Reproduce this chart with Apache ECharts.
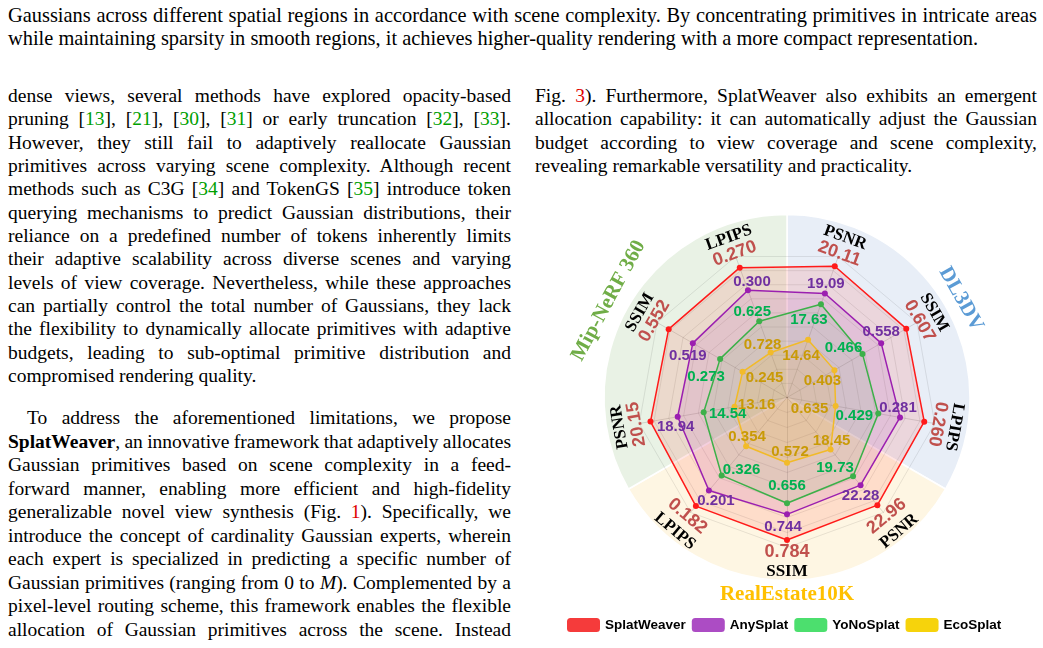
<!DOCTYPE html>
<html><head><meta charset="utf-8">
<script src="https://cdn.jsdelivr.net/npm/echarts@6/dist/echarts.min.js"></script>
<style>
html,body{margin:0;padding:0;background:#fff;width:1043px;height:648px;overflow:hidden;}
.t{position:absolute;font-family:"Liberation Serif","Times New Roman",serif;font-size:19.5px;line-height:23px;height:23px;color:#000;white-space:nowrap;}
.cap{font-size:20.4px;}
.c{color:#00a000;} .r{color:#e00000;}
#chart{position:absolute;left:0;top:0;width:1043px;height:648px;}
</style></head>
<body>
<div id="txt"></div>
<div id="chart"></div>
<script>
// ---------------- data ----------------
const indicatorNames = ['SSIM','PSNR','LPIPS','SSIM','PSNR','LPIPS','SSIM','PSNR','LPIPS'];
const seriesNames = ['SplatWeaver','AnySplat','YoNoSplat','EcoSplat'];
const datasetNames = ['DL3DV','RealEstate10K','Mip-NeRF 360'];
// metric values (printed labels), indicator order above
const splatWeaverMetrics = [0.784, 22.96, 0.260, 0.607, 20.11, 0.270, 0.552, 20.15, 0.182];
const anySplatMetrics    = [0.744, 22.28, 0.281, 0.558, 19.09, 0.300, 0.519, 18.94, 0.201];
const yoNoSplatMetrics   = [0.656, 19.73, 0.429, 0.466, 17.63, 0.625, 0.273, 14.54, 0.326];
const ecoSplatMetrics    = [0.572, 18.45, 0.635, 0.403, 14.64, 0.728, 0.245, 13.16, 0.354];
// plotted radial scores (0-100)
const splatWeaverScores = [95.0, 93.7, 92.9, 91.8, 93.1, 92.1, 91.1, 92.4, 94.5];
const anySplatScores    = [77.9, 76.3, 76.5, 72.5, 73.8, 76.1, 72.5, 74.0, 81.0];
const yoNoSplatScores   = [70.5, 68.5, 61.8, 58.1, 66.1, 54.1, 51.5, 56.4, 67.8];
const ecoSplatScores    = [43.5, 45.2, 32.9, 36.5, 41.0, 31.9, 34.2, 35.5, 42.4];
const sectorShares = [1, 1, 1];

// ---------------- page text ----------------
const lines = [
 [8,4,1029,true,'Gaussians across different spatial regions in accordance with scene complexity. By concentrating primitives in intricate areas','cap'],
 [8,27,1029,false,'while maintaining sparsity in smooth regions, it achieves higher-quality rendering with a more compact representation.','cap'],
];
const left = [
 'dense views, several methods have explored opacity-based',
 'pruning [<span class=c>13</span>], [<span class=c>21</span>], [<span class=c>30</span>], [<span class=c>31</span>] or early truncation [<span class=c>32</span>], [<span class=c>33</span>].',
 'However, they still fail to adaptively reallocate Gaussian',
 'primitives across varying scene complexity. Although recent',
 'methods such as C3G [<span class=c>34</span>] and TokenGS [<span class=c>35</span>] introduce token',
 'querying mechanisms to predict Gaussian distributions, their',
 'reliance on a predefined number of tokens inherently limits',
 'their adaptive scalability across diverse scenes and varying',
 'levels of view coverage. Nevertheless, while these approaches',
 'can partially control the total number of Gaussians, they lack',
 'the flexibility to dynamically allocate primitives with adaptive',
 'budgets, leading to sub-optimal primitive distribution and',
 'compromised rendering quality.'
];
const left2 = [
 'To address the aforementioned limitations, we propose',
 '<b>SplatWeaver</b>, an innovative framework that adaptively allocates',
 'Gaussian primitives based on scene complexity in a feed-',
 'forward manner, enabling more efficient and high-fidelity',
 'generalizable novel view synthesis (Fig. <span class=r>1</span>). Specifically, we',
 'introduce the concept of cardinality Gaussian experts, wherein',
 'each expert is specialized in predicting a specific number of',
 'Gaussian primitives (ranging from 0 to <i>M</i>). Complemented by a',
 'pixel-level routing scheme, this framework enables the flexible',
 'allocation of Gaussian primitives across the scene. Instead'
];
const right = [
 'Fig. <span class=r>3</span>). Furthermore, SplatWeaver also exhibits an emergent',
 'allocation capability: it can automatically adjust the Gaussian',
 'budget according to view coverage and scene complexity,',
 'revealing remarkable versatility and practicality.'
];
left.forEach((s,i)=>lines.push([8, 84 + 23.33*i, 503, i !== left.length-1, s]));
left2.forEach((s,i)=>lines.push([i===0?27:8, 406 + 23.55*i, i===0?484:503, true, s]));
right.forEach((s,i)=>lines.push([535, 84 + 23.4*i, 502, i !== right.length-1, s]));
const txt = document.getElementById('txt');
lines.forEach(l=>{
  const d = document.createElement('div');
  d.className = 't' + (l[5] ? ' ' + l[5] : '');
  d.style.left = l[0]+'px'; d.style.top = l[1]+'px'; d.style.width = l[2]+'px';
  const sp = document.createElement('span');
  sp.innerHTML = l[4];
  d.appendChild(sp);
  txt.appendChild(d);
  if (l[3]) {
    const w = sp.getBoundingClientRect().width;
    const nSp = (sp.textContent.match(/ /g) || []).length;
    if (nSp > 0) sp.style.wordSpacing = ((l[2] - w) / nSp) + 'px';
  }
});

// ---------------- chart ----------------
const CENTER = [787, 397.5], RADIUS = 150, BG_RADIUS = 183;
const lineColors = ['#ff1a1a','#9b1fb0','#3db04a','#f2bb2a'];
const areaColors = ['rgba(255,50,30,0.18)','rgba(160,40,190,0.17)','rgba(60,185,70,0.13)','rgba(245,185,30,0.22)'];
const legendColors = ['#f53b3b','#ac4cc4','#4cdf6e','#f6d30c'];
const labelColors = ['#c0504d','#7030a0','#00b050','#c99a06'];
const sectorColors = ['#e8eef7','#fef6e3','#e9f2e5'];
const datasetColors = ['#5b9bd5','#ffc000','#70ad47'];
// label offsets (px) of the value text relative to each vertex
const labelOffsets = [
 null,
 [[-4,13],[0,11],[-2,-10],[0,-11],[1,-10],[4,-8],[-5,13],[-2,10],[7,10]],
 [[0,-17],[-18,-8],[-24,2],[-19,-6],[-12,16],[-7,-9],[-14,18],[24,2],[20,-6]],
 [[3,-11],[1,-9],[-26,3],[-12,11],[-7,16],[-8,-8],[22,6],[22,-2],[1,-9]]
];
const metrics = [splatWeaverMetrics, anySplatMetrics, yoNoSplatMetrics, ecoSplatMetrics];
const scores = [splatWeaverScores, anySplatScores, yoNoSplatScores, ecoSplatScores];
const fmt = v => v < 1 ? v.toFixed(3) : v.toFixed(2);

const chart = echarts.init(document.getElementById('chart'), null, {renderer:'canvas'});
const option = {
  animation: false,
  legend: {
    left: 567, top: 618, padding: 0, itemWidth: 33, itemHeight: 14, itemGap: 6, icon: 'roundRect',
    selectedMode: false,
    textStyle: {fontFamily: 'Liberation Sans', fontWeight: 'bold', fontSize: 13.5, color: '#000'},
    data: seriesNames.map((n,i)=>({name:n, itemStyle:{color:legendColors[i], borderWidth:0}}))
  },
  radar: {
    z: 1,
    center: CENTER, radius: RADIUS, startAngle: 270, splitNumber: 10, shape: 'polygon',
    indicator: indicatorNames.map(n=>({name:n, min:0, max:100})),
    axisName: {show:false},
    axisLine: {lineStyle:{color:'rgba(0,0,0,0.13)', width:1}},
    splitLine: {lineStyle:{color:'rgba(0,0,0,0.09)', width:1}},
    splitArea: {show:false}
  },
  series: [
    {
      type: 'pie', z: 0, silent: true, center: CENTER, radius: [0, BG_RADIUS],
      startAngle: 90, clockwise: true, label: {show:false}, labelLine:{show:false},
      itemStyle: {borderColor:'#fff', borderWidth:1.5},
      emphasis: {disabled:true},
      data: datasetNames.map((n,i)=>({name:n, value:sectorShares[i], itemStyle:{color:sectorColors[i]}}))
    },
    {
      type: 'radar', z: 2, symbol: 'circle', symbolSize: 6,
      emphasis: {disabled:true},
      data: seriesNames.map((n,i)=>({
        name: n, value: scores[i],
        lineStyle: {color: lineColors[i], width: 1.5},
        itemStyle: {color: lineColors[i]},
        areaStyle: {color: areaColors[i]}
      }))
    }
  ]
};
chart.setOption(option);

// ---------- texts placed with the radar coordinate system ----------
let cs = null;
try { cs = chart.getModel().getComponent('radar', 0).coordinateSystem; } catch(e) {}
const cx = cs && cs.cx != null ? cs.cx : CENTER[0];
const cy = cs && cs.cy != null ? cs.cy : CENTER[1];
const nInd = indicatorNames.length;
function angleOf(i){
  if (cs && cs.getIndicatorAxes) return cs.getIndicatorAxes()[i].angle;
  return (270 + i*360/nInd) * Math.PI/180;
}
function pointOf(v, i){
  if (cs && cs.dataToPoint) return cs.dataToPoint(v, i);
  const a = angleOf(i), r = v/100*RADIUS;
  return [cx + r*Math.cos(a), cy - r*Math.sin(a)];
}
function polar(r, a){ return [cx + r*Math.cos(a), cy - r*Math.sin(a)]; }
function txtEl(p, text, rot, font, color){
  return {type:'text', x:p[0], y:p[1], rotation:rot, z:100, silent:true,
    style:{text:text, font:font, fill:color, align:'center', verticalAlign:'middle'}};
}
const graphics = [];
const NAME_FONT = 'bold 17px "Liberation Serif", serif';
const VAL_FONT = 'bold 18px "Liberation Sans", Arial, sans-serif';
const LAB_FONT = 'bold 15px "Liberation Sans", Arial, sans-serif';
for (let i=0;i<nInd;i++){
  const a = angleOf(i);
  let deg = (a*180/Math.PI) % 360; if (deg<0) deg += 360;
  const flip = deg > 200 && deg < 340;
  const rot = flip ? a + Math.PI/2 : a - Math.PI/2;
  const rv = flip ? 155 : 153, rn = flip ? 174.5 : 170;
  graphics.push(txtEl(polar(rn, a), indicatorNames[i], rot, NAME_FONT, '#000'));
  graphics.push(txtEl(polar(rv, a), fmt(metrics[0][i]), rot, VAL_FONT, labelColors[0]));
}
for (let s=1;s<4;s++){
  for (let i=0;i<nInd;i++){
    const p = pointOf(scores[s][i], i);
    const o = labelOffsets[s][i];
    graphics.push(txtEl([p[0]+o[0], p[1]+o[1]], fmt(metrics[s][i]), 0, LAB_FONT, labelColors[s]));
  }
}
// dataset titles
const DS_FONT = 'bold 21px "Liberation Serif", serif';
const dsAngles = [29.5, 270, 151.5];
const dsRadii = [200, 197.5, 203];
dsAngles.forEach((d,k)=>{
  const a = d*Math.PI/180;
  const flip = d > 200 && d < 340;
  const rot = flip ? a + Math.PI/2 : a - Math.PI/2;
  graphics.push(txtEl(polar(dsRadii[k], a), datasetNames[k], rot, DS_FONT, datasetColors[k]));
});
chart.setOption({graphic: graphics});
</script>
</body></html>
